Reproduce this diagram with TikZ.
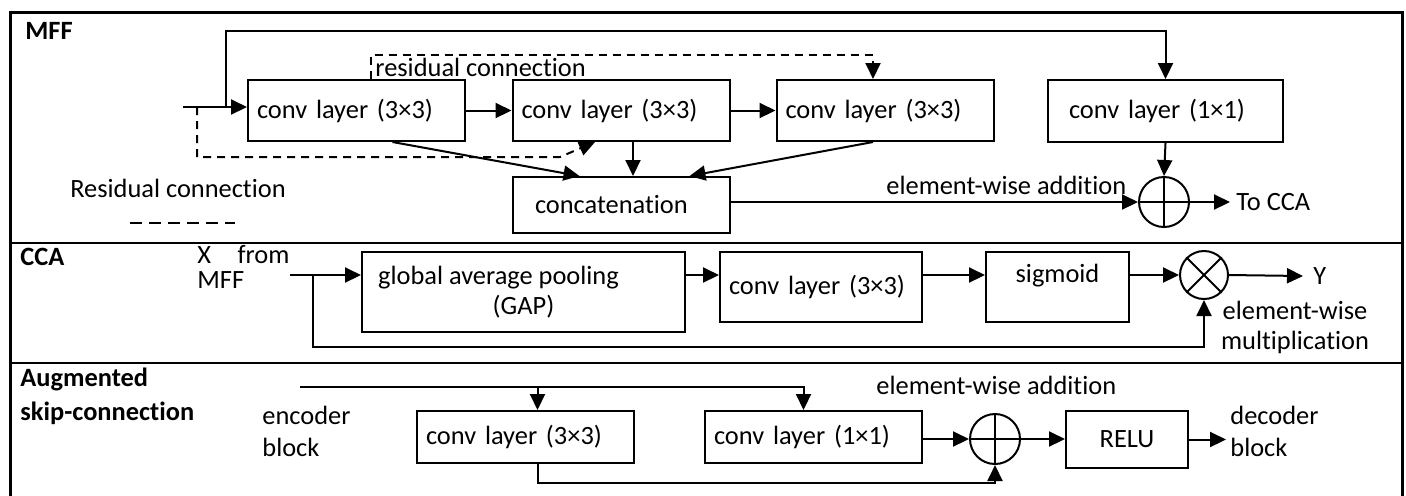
\documentclass[tikz,border=0pt]{standalone}
\usepackage{fontspec}
\setmainfont{Carlito}[Ligatures={NoCommon}]
\usetikzlibrary{arrows.meta, positioning, calc}

\begin{document}
\begin{tikzpicture}[
    x=0.5pt, y=-0.5pt,
    every node/.style={font=\fontsize{13.2}{15}\selectfont},
    % blocks
    box/.style={draw, line width=1pt, inner xsep=0pt, inner ysep=2pt},
    lbox/.style={box, align=left, text width=#1},
    conv/.style={lbox=99.5pt, minimum width=108.5pt, minimum height=30.5pt},
    opnode/.style={draw, circle, line width=1pt, minimum size=#1, inner sep=0pt},
    txt/.style={inner sep=0pt, anchor=west},
    % connectors
    arr/.style={-{Triangle[length=8pt, width=7.5pt]}, line width=1pt},
    resarr/.style={arr, dash pattern=on 4pt off 3pt},
    frame/.style={line width=1.5pt},
    divider/.style={line width=1.3pt}
]
\useasboundingbox (0,0) rectangle (1406,495);

% === FRAME AND SECTIONS ===
\draw[frame] (10,500) |- (1402,12) -- (1402,500);
\draw[divider] (10,243) -- (1402,243);
\draw[divider] (10,363) -- (1402,363);

% === MFF ===
\node[txt, font=\fontsize{13.2}{15}\selectfont\bfseries] (mfflbl) at (25,31) {MFF};

\node[conv] (c1) at (356.5,110.5) {conv layer (3×3)};
\node[conv] (c2) at (621,110.5) {conv layer (3×3)};
\node[conv] (c3) at (885,110.5) {conv layer (3×3)};
\node[lbox=96.5pt, minimum width=117.5pt, minimum height=31pt] (c4) at (1165.5,111) {conv layer (1×1)};
\node[lbox=86.5pt, minimum width=108.5pt, minimum height=28pt] (concat) at (621.5,205) {concatenation};
\node[opnode=25pt] (add1) at (1164,202) {};
\draw[line width=1pt] (add1.north) -- (add1.south) (add1.west) -- (add1.east);

\node[txt, inner xsep=3pt] (tocca) at (1230,202) {To CCA};
\node[txt] (addlbl1) at (886,185) {element-wise addition};
\node[txt] (reslbl) at (375,67) {residual connection};
\node (legend) at (178,188) {Residual connection};
\draw[line width=1pt, dash pattern=on 6pt off 3.5pt] (130,223) -- (235,223);

\coordinate (mffin) at (183,107);
\coordinate (tap) at (226,107);
\coordinate (dtap) at (197,107);

\draw[arr] (mffin) -- (c1.west |- mffin);
\draw[arr] (tap) |- ([yshift=24pt]c4.north) -- (c4.north);
\draw[arr] (c1) -- (c2);
\draw[arr] (c2) -- (c3);
% residual (dashed) paths
\draw[resarr] ([xshift=7pt]c1.north) -- ++(0,-24) -| ([xshift=-6pt]c3.north);
\draw[resarr] (dtap) -- ++(0,50) -- ++(363,0) -- ([xshift=-13pt]c2.south);
% into concatenation
\draw[arr] ([xshift=18pt]c1.south) -- ([xshift=-21pt]concat.north);
\draw[arr] ([xshift=6pt]c2.south) -- ([xshift=6pt]c2.south |- concat.north);
\draw[arr] ([xshift=-6pt]c3.south) -- ([xshift=34pt]concat.north);
\draw[arr] (c4.south) -- (add1.north);
\draw[arr] (concat.east |- add1) -- (add1.west);
\draw[arr] (add1.east) -- (tocca.west);

% === CCA ===
\node[txt, font=\fontsize{13.2}{15}\selectfont\bfseries] (ccalbl) at (20,257) {CCA};
\node[txt, align=left, font=\fontsize{13.2}{12.5}\selectfont] (xin) at (197,267) {X\quad from\\MFF};

\node[box, align=center, minimum width=161.5pt, minimum height=40pt] (gap) at (523.5,292) {global average pooling\hspace*{25pt}\\(GAP)};
\node[lbox=92pt, minimum width=101pt, minimum height=35pt] (cconv) at (821,287) {conv layer (3×3)};
\node[box, minimum width=71.5pt, minimum height=35pt, text depth=14pt] (sigm) at (1057.5,287) {sigmoid};
\node[opnode=24pt] (mul) at (1204,275) {};
\draw[line width=1pt] (mul.north west) -- (mul.south east) (mul.north east) -- (mul.south west);

\node[txt, inner xsep=5pt] (yout) at (1303,276) {Y};
\node[align=center, inner sep=0pt] (mullbl) at (1295,327) {element-wise\\multiplication};

\coordinate (ccain) at (290,275);
\coordinate (ccatap) at (313,275);

\draw[arr] (ccain) -- (ccain -| gap.west);
\draw[arr] (gap.east |- ccain) -- (cconv.west |- ccain);
\draw[arr] (cconv.east |- ccain) -- (sigm.west |- ccain);
\draw[arr] (sigm.east |- ccain) -- (mul.west);
\draw[arr] (mul.east) -- (yout.west);
\draw[arr] (ccatap) -- ++(0,72) -| (mul.south);

% === AUGMENTED SKIP-CONNECTION ===
\node[txt, align=left, font=\fontsize{13.2}{17}\selectfont\bfseries] (skiplbl) at (20,396) {Augmented\\skip-connection};
\node[txt, align=left, font=\fontsize{13.2}{16}\selectfont] (enc) at (262,431) {encoder\\block};

\node[lbox=99.5pt, minimum width=108.5pt, minimum height=26pt] (a1) at (525.5,437) {conv layer (3×3)};
\node[lbox=99.5pt, minimum width=108.5pt, minimum height=26pt] (a2) at (813.5,437) {conv layer (1×1)};
\node[opnode=25pt] (add2) at (995,439) {};
\draw[line width=1pt] (add2.north) -- (add2.south) (add2.west) -- (add2.east);
\node[box, minimum width=61pt, minimum height=28.5pt] (relu) at (1127,439.5) {RELU};

\node[txt] (addlbl2) at (876,385) {element-wise addition};
\node[txt, align=left, inner xsep=2pt, font=\fontsize{13.2}{16}\selectfont] (dec) at (1226,431) {decoder\\block};

\coordinate (encin) at (300,387);

\draw[arr] (encin) -| ([xshift=-5pt]a2.north);
\draw[arr] ([xshift=6pt]a1.north |- encin) -- ([xshift=6pt]a1.north);
\draw[arr] ([xshift=6pt]a1.south) -- ++(0,19) -| (add2.south);
\draw[arr] (a2.east |- add2) -- (add2.west);
\draw[arr] (add2.east) -- (relu.west |- add2);
\draw[arr] (relu.east) -- (relu.east -| dec.west);

\end{tikzpicture}
\end{document}
